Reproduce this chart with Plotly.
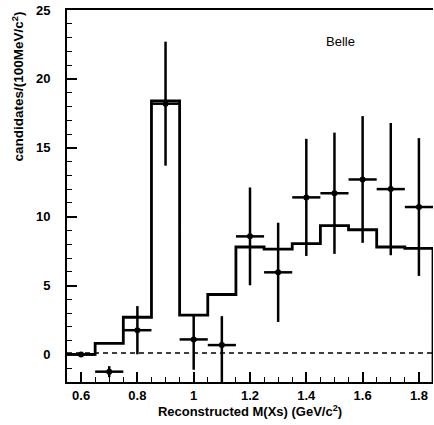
import plotly.graph_objects as go

# Histogram (MC expectation), bins of width 0.1
bin_edges = [0.55, 0.65, 0.75, 0.85, 0.95, 1.05, 1.15, 1.25, 1.35, 1.45, 1.55, 1.65, 1.75, 1.85]
hist_vals = [0.0, 0.8, 2.7, 18.4, 2.85, 4.35, 7.8, 7.65, 8.05, 9.35, 9.05, 7.8, 7.7]

# Data points
data_x = [0.6, 0.7, 0.8, 0.9, 1.0, 1.1, 1.2, 1.3, 1.4, 1.5, 1.6, 1.7, 1.8]
data_y = [0.0, -1.25, 1.76, 18.2, 1.09, 0.68, 8.57, 5.96, 11.4, 11.7, 12.7, 12.0, 10.7]
err_plus = [0.0, 0.4, 1.75, 4.5, 1.8, 2.1, 3.55, 3.6, 4.25, 4.4, 4.6, 4.8, 5.0]
err_minus = [0.0, 0.4, 1.75, 4.5, 2.2, 2.7, 3.55, 3.6, 4.25, 4.4, 4.6, 4.8, 5.0]
x_half = [0.05] * len(data_x)

baseline_y = 0.1
x_range = [0.55, 1.85]
y_range = [-2, 25]
x_ticks = [0.6, 0.8, 1.0, 1.2, 1.4, 1.6, 1.8]
x_ticklabels = ["0.6", "0.8", "1", "1.2", "1.4", "1.6", "1.8"]
y_ticks = [0, 5, 10, 15, 20, 25]

# Build step outline from histogram
hx, hy = [], []
for i, v in enumerate(hist_vals):
    hx += [bin_edges[i], bin_edges[i + 1]]
    hy += [v, v]
hx.append(bin_edges[-1])
hy.append(y_range[0])

font_fam = "Liberation Sans, Arial, sans-serif"

fig = go.Figure()
fig.add_trace(go.Scatter(x=x_range, y=[baseline_y, baseline_y], mode="lines",
                         line=dict(color="black", width=1.5, dash="5px,4px"),
                         hoverinfo="skip", showlegend=False))
fig.add_trace(go.Scatter(x=hx, y=hy, mode="lines",
                         line=dict(color="black", width=2.8),
                         cliponaxis=False, showlegend=False))
fig.add_trace(go.Scatter(x=data_x, y=data_y, mode="markers",
                         marker=dict(color="black", size=6),
                         error_y=dict(type="data", array=err_plus, arrayminus=err_minus,
                                      symmetric=False, color="black", thickness=2.5, width=0),
                         error_x=dict(type="data", array=x_half, color="black",
                                      thickness=2.5, width=0),
                         showlegend=False))

fig.add_annotation(x=1.52, y=22.7, text="Belle", showarrow=False,
                   font=dict(family=font_fam, size=13, color="black"))
fig.add_annotation(xref="paper", yref="paper", x=-0.135, y=1.0, xanchor="center",
                   yanchor="top", textangle=-90,
                   text="<b>candidates/(100MeV/c<sup>2</sup>)</b>", showarrow=False,
                   font=dict(family=font_fam, size=13.5, color="black"))

fig.update_layout(
    width=434, height=425,
    margin=dict(l=67, r=1, t=10, b=43),
    plot_bgcolor="white", paper_bgcolor="white",
    font=dict(family=font_fam, color="black"),
    xaxis=dict(range=x_range, showgrid=False, zeroline=False, automargin=False,
               showline=True, linecolor="black", linewidth=2, mirror=True,
               ticks="inside", ticklen=10, tickwidth=1.5, tickcolor="black",
               tickvals=x_ticks, ticktext=x_ticklabels,
               tickfont=dict(size=13, family=font_fam, weight="bold"),
               minor=dict(dtick=0.05, tick0=0.55, ticks="inside", ticklen=5,
                          tickwidth=1, tickcolor="black", showgrid=False),
               title=dict(text="<b>Reconstructed M(Xs) (GeV/c<sup>2</sup>)</b>",
                          font=dict(size=13, family=font_fam), standoff=2)),
    yaxis=dict(range=y_range, showgrid=False, zeroline=False, automargin=False,
               showline=True, linecolor="black", linewidth=2, mirror=False,
               ticks="inside", ticklen=10, tickwidth=1.5, tickcolor="black",
               tickvals=y_ticks, ticklabelstandoff=12,
               tickfont=dict(size=13, family=font_fam, weight="bold"),
               minor=dict(dtick=1, ticks="inside", ticklen=5, tickwidth=1,
                          tickcolor="black", showgrid=False)),
)

fig.write_html("out.html", config={"displayModeBar": False},
               post_script="document.body.style.margin='0';document.body.style.overflow='hidden';")
